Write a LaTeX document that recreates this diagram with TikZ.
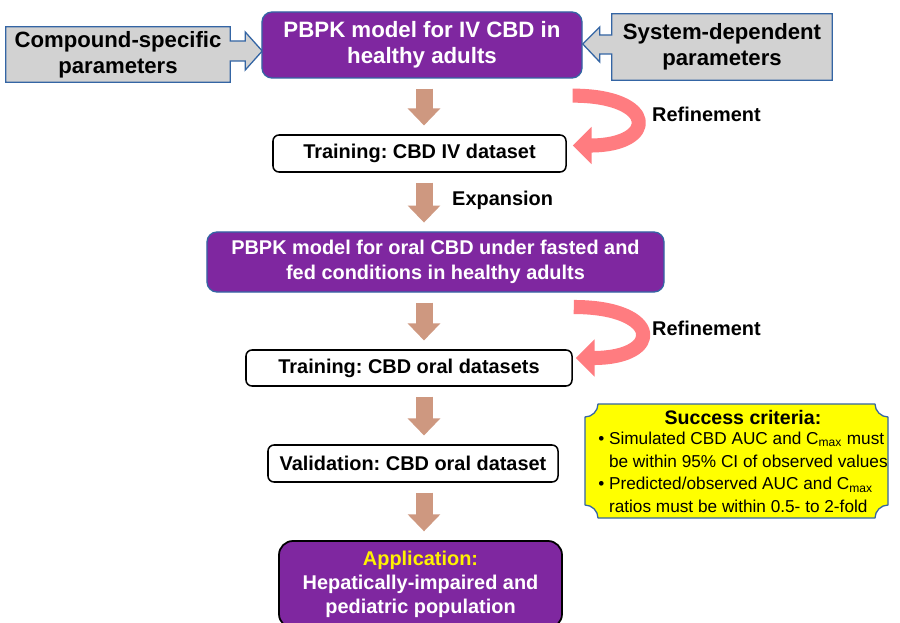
\documentclass[tikz,border=0pt]{standalone}
\usepackage{fontspec}
\setmainfont{Liberation Sans}
\usetikzlibrary{arrows.meta,calc,backgrounds}
\definecolor{modelpurple}{RGB}{127,39,160}
\definecolor{edgeblue}{RGB}{52,101,164}
\definecolor{paramgray}{RGB}{210,210,210}
\definecolor{flowbrown}{RGB}{206,152,128}
\definecolor{refinepink}{RGB}{255,124,128}
\definecolor{critfill}{RGB}{255,255,0}
\frenchspacing
\begin{document}
\begin{tikzpicture}[x=0.03cm,y=-0.03cm,line join=round,font=\bfseries\fontsize{17}{21}\selectfont,
	model/.style={draw=edgeblue,line width=1.1pt,fill=modelpurple,text=white,rounded corners=0.3cm,align=center,inner sep=0pt},
	dataset/.style={draw=black,line width=1.3pt,fill=white,rounded corners=0.18cm,inner sep=0pt},
	appbox/.style={draw=black,line width=1.5pt,fill=modelpurple,text=white,rounded corners=0.42cm,align=center,inner sep=0pt},
	param/.style={draw=edgeblue,line width=1.1pt,fill=paramgray},
	crit/.style={draw=edgeblue,line width=1.1pt,fill=critfill},
	flow/.style={draw=flowbrown,line width=14.5pt,-{Triangle[width=27pt,length=14.5pt]},shorten <=8.5pt,shorten >=7.5pt},
	refine/.style={draw=refinepink,line width=12pt,-{Triangle[width=31pt,length=16pt]}},
	lbl/.style={inner sep=0pt,anchor=west}]
	\useasboundingbox (0,0) rectangle (900,623);
	\path (424,0) coordinate (col);
	% model, parameters and datasets
	\node[model,minimum width=9.6cm,minimum height=1.98cm,font=\bfseries\fontsize{19}{22}\selectfont] (pbpkiv) at (422,45) {PBPK model for IV CBD in\\healthy adults};
	\node[align=center,inner sep=0pt,minimum width=6.72cm,minimum height=1.65cm,font=\bfseries\fontsize{18.9}{22.5}\selectfont] (compound) at (118,54.5) {Compound-specific\\parameters};
	\node[align=center,inner sep=0pt,minimum width=6.6cm,minimum height=1.98cm,font=\bfseries\fontsize{18.9}{22.5}\selectfont] (system) at (722,47) {System-dependent\\parameters};
	\node[dataset,minimum width=8.79cm,minimum height=1.11cm] (trainiv) at (419.5,153.5) {Training: CBD IV dataset};
	\node[model,minimum width=13.71cm,minimum height=1.8cm] (pbpkoral) at (435.5,262) {PBPK model for oral CBD under fasted and\\fed conditions in healthy adults};
	\node[dataset,minimum width=9.78cm,minimum height=1.08cm] (trainoral) at (409,368) {Training: CBD oral datasets};
	\node[dataset,minimum width=8.7cm,minimum height=1.11cm] (valid) at (413,463.5) {Validation: CBD oral dataset};
	\node[appbox,minimum width=8.49cm,minimum height=2.61cm,font=\bfseries\fontsize{17}{20.5}\selectfont] (app) at (420.5,584.5) {{\color{yellow}Application:}\\Hepatically-impaired and\\pediatric population};
	% block arrows of the parameters
	\begin{scope}[on background layer]
		\fill[white] (0,0) rectangle (900,623);
		\draw[param] (compound.south west) -- (compound.north west) -- (compound.north east)
		-- ($(compound.east)+(0,-13.5)$) -- ++(15,0) -- ++(0,-9) -- ($(compound.east)+(32,-3.5)$)
		-- ($(compound.east)+(15,15.5)$) -- ++(0,-9) -- ($(compound.east)+(0,6.5)$) -- (compound.south east) -- cycle;
		\draw[param] (system.south east) -- (system.north east) -- (system.north west)
		-- ($(system.west)+(0,-12)$) -- ++(-12,0) -- ++(0,-8) -- ($(system.west)+(-29,-3)$)
		-- ($(system.west)+(-12,15)$) -- ++(0,-8) -- ($(system.west)+(0,7)$) -- (system.south west) -- cycle;
	\end{scope}
	% success criteria
	\draw[crit] (598,404) -- (875,404) .. controls (875,411) and (881,417) .. (888,417) -- (888,505)
	.. controls (881,505) and (875,511) .. (875,518) -- (598,518) .. controls (598,511) and (592,505) .. (585,505)
	-- (585,417) .. controls (592,417) and (598,411) .. (598,404) -- cycle;
	\node[align=center,inner sep=0pt,font=\mdseries\fontsize{14.7}{19.4}\selectfont] (criteria) at (743,465)
	{{\bfseries\fontsize{16.7}{20}\selectfont Success criteria:}\\[2pt]
		\begin{tabular}{@{}l@{\hspace{4pt}}l@{}}
			•& Simulated CBD AUC and C\textsubscript{max} must\\
			& be within 95\% CI of observed values\\
			•& Predicted/observed AUC and C\textsubscript{max}\\
			& ratios must be within 0.5- to 2-fold
	\end{tabular}};
	% flow
	\foreach \a/\b in {pbpkiv/trainiv,trainiv/pbpkoral,pbpkoral/trainoral,trainoral/valid,valid/app}
	\draw[flow] (\a.south-|col) -- (\b.north-|col);
	\node[lbl] (expand) at (452,200) {Expansion};
	% refinement loops
	\path ($(pbpkiv.south east)+(-10,17)$) coordinate (r1s) ($(trainiv.east)+(6,-8)$) coordinate (r1e)
	($(trainoral.east)+(1,-61)$) coordinate (r2s) ($(trainoral.east)+(3,-10)$) coordinate (r2e);
	\draw[refine] (r1s) .. controls +(85,0) and +(85,0) .. (r1e);
	\draw[refine] (r2s) .. controls +(88,0) and +(88,0) .. (r2e);
	\node[lbl] (refine1) at (652,114) {Refinement};
	\node[lbl] (refine2) at (652,328) {Refinement};
\end{tikzpicture}
\end{document}
